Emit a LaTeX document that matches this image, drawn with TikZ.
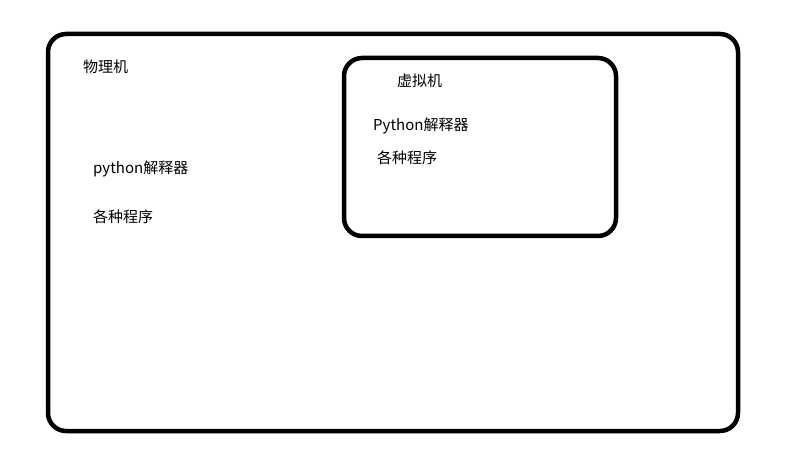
\documentclass[tikz,border=0pt]{standalone}
\usepackage{fontspec}
\usepackage{tikz}
\usetikzlibrary{positioning}
\setsansfont{Noto Sans CJK SC}
\renewcommand{\familydefault}{\sfdefault}

\begin{document}
\begin{tikzpicture}[
    x=1pt, y=-1pt,
    machine/.style={draw, line width=4.5pt, rounded corners=18pt},
    label/.style={anchor=west, inner sep=0pt, font=\fontsize{15}{17}\selectfont}
]
    \useasboundingbox (0,0) rectangle (790,465);
    \node[machine, minimum width=690pt, minimum height=397pt] (host) at (393,232.5) {};
    \node[machine, minimum width=272pt, minimum height=178pt] (vm) at (480,147) {};

    \node[label] (hostname) at (83,67) {物理机};
    \node[label] (hostpy) at (93,169) {python解释器};
    \node[label] (hostprog) at (93,217) {各种程序};

    \node[label] (vmname) at (397,81) {虚拟机};
    \node[label] (vmpy) at (373,126) {Python解释器};
    \node[label] (vmprog) at (377,158) {各种程序};
\end{tikzpicture}
\end{document}
